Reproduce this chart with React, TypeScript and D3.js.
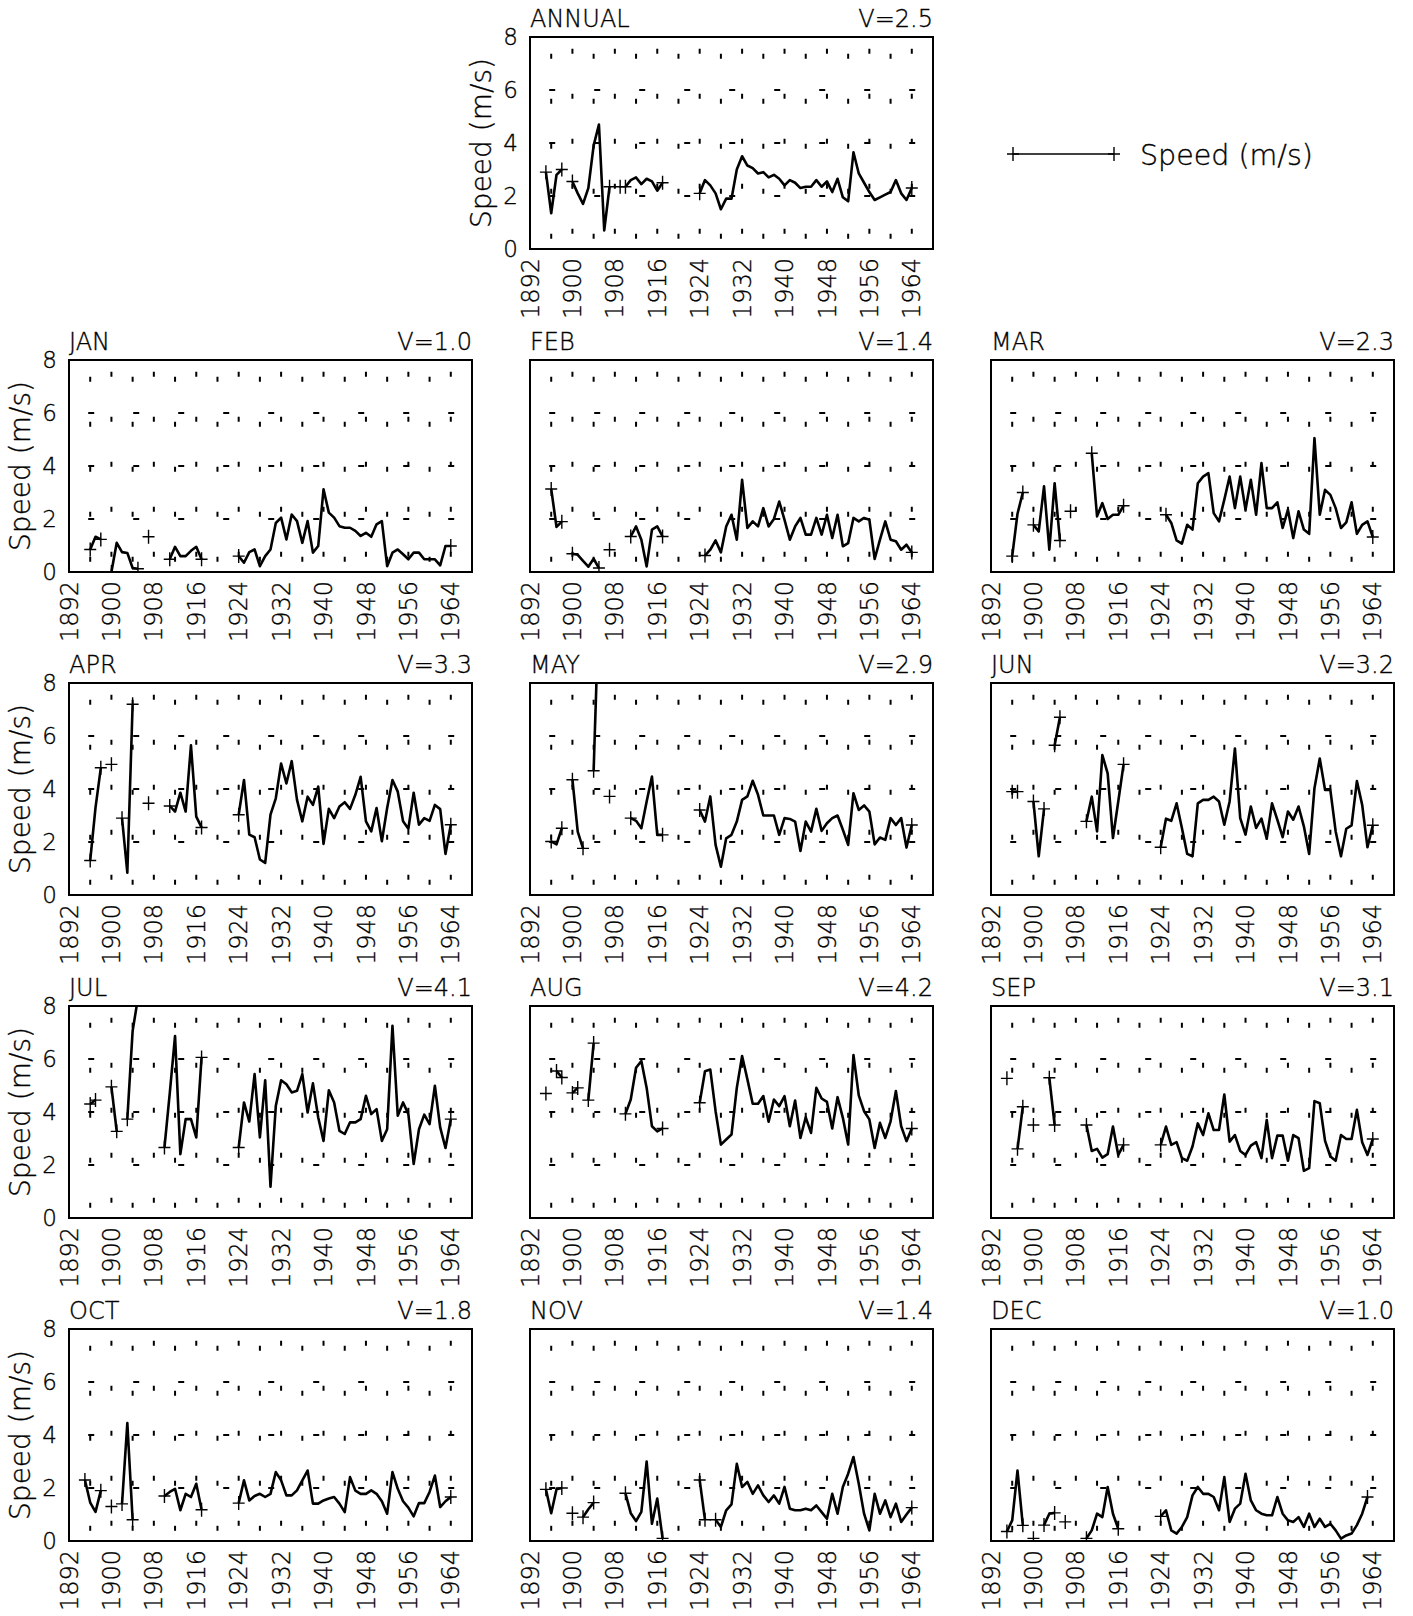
import React from 'react';
import * as d3 from 'd3';

type Seg = { start: number; values: number[] };

const xTickYears = [1892, 1900, 1908, 1916, 1924, 1932, 1940, 1948, 1956, 1964];
const yTickValues = [0, 2, 4, 6, 8];
const gridYears = [1896, 1900, 1904, 1908, 1912, 1916, 1920, 1924, 1928, 1932, 1936, 1940, 1944, 1948, 1952, 1956, 1960, 1964];
const gridLevels = [2, 4, 6];

const annual: Seg[] = [
  { start: 1895, values: [2.9, 1.35, 2.8, 3.0] },
  { start: 1900, values: [2.55, 2.1, 1.7, 2.3, 3.9, 4.7, 0.7, 2.35] },
  { start: 1909, values: [2.35] },
  { start: 1910, values: [2.35, 2.6, 2.7, 2.45, 2.65, 2.55, 2.2, 2.5] },
  { start: 1924, values: [2.1, 2.6, 2.4, 2.1, 1.5, 1.9, 1.9, 3.0, 3.5, 3.15, 3.05, 2.85, 2.9, 2.7, 2.8, 2.65, 2.4, 2.6, 2.5, 2.3, 2.35, 2.35, 2.6, 2.35, 2.55, 2.15, 2.65, 1.95, 1.8, 3.65, 2.85, 2.5, 2.15, 1.85, 1.95, 2.05, 2.15, 2.6, 2.1, 1.85, 2.3] },
];
const jan: Seg[] = [
  { start: 1896, values: [0.85, 1.33, 1.23] },
  { start: 1900, values: [0.0, 1.1, 0.75, 0.72, 0.15, 0.12] },
  { start: 1907, values: [1.33] },
  { start: 1911, values: [0.48, 0.95, 0.6, 0.6, 0.8, 0.95, 0.48] },
  { start: 1924, values: [0.6, 0.35, 0.75, 0.85, 0.22, 0.6, 0.85, 1.85, 2.05, 1.23, 2.17, 1.92, 1.1, 1.92, 0.73, 0.98, 3.12, 2.24, 2.05, 1.73, 1.67, 1.67, 1.55, 1.36, 1.48, 1.33, 1.8, 1.92, 0.22, 0.73, 0.85, 0.67, 0.48, 0.73, 0.73, 0.48, 0.48, 0.48, 0.25, 0.98, 0.98] },
];
const feb: Seg[] = [
  { start: 1896, values: [3.13, 1.7, 1.9] },
  { start: 1900, values: [0.69, 0.65, 0.42, 0.2, 0.5, 0.15] },
  { start: 1907, values: [0.84] },
  { start: 1911, values: [1.34, 1.72, 1.22, 0.21, 1.6, 1.72, 1.34] },
  { start: 1925, values: [0.62, 0.84, 1.19, 0.74, 1.72, 2.16, 1.22, 3.48, 1.66, 1.91, 1.72, 2.41, 1.72, 2.0, 2.66, 1.97, 1.22, 1.72, 2.04, 1.41, 1.41, 2.04, 1.41, 2.16, 1.28, 2.16, 0.97, 1.09, 2.04, 1.91, 2.04, 1.97, 0.49, 1.22, 1.91, 1.22, 1.16, 0.84, 1.03, 0.74] },
];
const mar: Seg[] = [
  { start: 1896, values: [0.6, 2.2, 3.0] },
  { start: 1900, values: [1.78, 1.53, 3.23, 0.84, 3.35, 1.19] },
  { start: 1907, values: [2.29] },
  { start: 1911, values: [4.48, 2.1, 2.6, 2.0, 2.16, 2.16, 2.5] },
  { start: 1925, values: [2.16, 1.85, 1.19, 1.07, 1.78, 1.6, 3.35, 3.6, 3.73, 2.22, 1.91, 2.73, 3.6, 2.41, 3.6, 2.35, 3.48, 2.16, 4.11, 2.41, 2.41, 2.63, 1.66, 2.35, 1.28, 2.29, 1.6, 1.44, 5.05, 2.16, 3.1, 2.91, 2.41, 1.66, 1.87, 2.63, 1.44, 1.78, 1.91, 1.32] },
];
const apr: Seg[] = [
  { start: 1896, values: [1.3, 3.3, 4.8] },
  { start: 1900, values: [4.93] },
  { start: 1902, values: [2.9, 0.84, 7.2] },
  { start: 1907, values: [3.46] },
  { start: 1911, values: [3.36, 3.15, 3.86, 3.15, 5.65, 2.96, 2.55] },
  { start: 1924, values: [3.03, 4.34, 2.28, 2.18, 1.34, 1.21, 3.03, 3.65, 4.96, 4.21, 5.05, 3.59, 2.78, 3.71, 3.4, 4.09, 1.93, 3.25, 2.9, 3.34, 3.5, 3.25, 3.78, 4.46, 2.78, 2.4, 3.28, 2.03, 3.28, 4.34, 3.9, 2.78, 2.5, 3.86, 2.65, 2.9, 2.8, 3.4, 3.24, 1.55, 2.65] },
];
const may: Seg[] = [
  { start: 1896, values: [2.02, 1.91, 2.52] },
  { start: 1900, values: [4.35, 2.39, 1.76] },
  { start: 1904, values: [4.69, 11] },
  { start: 1907, values: [3.72] },
  { start: 1911, values: [2.9, 2.8, 2.52, 3.53, 4.47, 2.27, 2.27] },
  { start: 1924, values: [3.21, 2.77, 3.72, 1.89, 1.07, 2.14, 2.27, 2.77, 3.59, 3.72, 4.31, 3.78, 3.0, 3.0, 3.0, 2.27, 2.9, 2.87, 2.77, 1.66, 2.77, 2.39, 3.25, 2.42, 2.71, 2.9, 3.0, 2.46, 1.89, 3.84, 3.21, 3.38, 3.15, 1.91, 2.17, 2.08, 2.9, 2.64, 2.9, 1.79, 2.64] },
];
const jun: Seg[] = [
  { start: 1896, values: [3.9, 3.9] },
  { start: 1900, values: [3.53, 1.46, 3.25] },
  { start: 1904, values: [5.65, 6.71] },
  { start: 1910, values: [2.78, 3.71, 2.4, 5.28, 4.59, 2.15, 3.53, 4.93] },
  { start: 1924, values: [1.8, 2.88, 2.8, 3.46, 2.53, 1.55, 1.46, 3.46, 3.59, 3.59, 3.71, 3.53, 2.65, 3.53, 5.53, 2.9, 2.28, 3.34, 2.53, 2.88, 2.13, 3.46, 2.84, 2.18, 3.15, 2.84, 3.34, 2.59, 1.55, 4.03, 5.15, 3.96, 3.96, 2.4, 1.46, 2.5, 2.63, 4.3, 3.4, 1.8, 2.63] },
];
const jul: Seg[] = [
  { start: 1896, values: [4.3, 4.45] },
  { start: 1900, values: [4.95, 3.27] },
  { start: 1903, values: [3.73, 7.06, 8.3] },
  { start: 1910, values: [2.66, 4.7, 6.87, 2.41, 3.73, 3.73, 3.04, 6.06] },
  { start: 1924, values: [2.66, 4.36, 3.64, 5.43, 3.04, 5.2, 1.18, 4.23, 5.2, 5.05, 4.74, 4.8, 5.43, 3.98, 5.08, 3.79, 2.91, 4.82, 4.36, 3.29, 3.17, 3.61, 3.61, 3.73, 4.61, 3.92, 4.11, 2.91, 3.35, 7.25, 3.86, 4.36, 3.92, 2.04, 3.35, 3.9, 3.54, 4.99, 3.42, 2.64, 3.73] },
];
const aug: Seg[] = [
  { start: 1895, values: [4.7] },
  { start: 1897, values: [5.55, 5.3] },
  { start: 1900, values: [4.72, 4.91] },
  { start: 1903, values: [4.45, 6.6] },
  { start: 1910, values: [3.93, 4.47, 5.67, 5.92, 4.91, 3.46, 3.27, 3.38] },
  { start: 1924, values: [4.35, 5.54, 5.6, 4.03, 2.77, 2.96, 3.15, 4.91, 6.11, 5.23, 4.31, 4.31, 4.6, 3.63, 4.47, 4.22, 4.6, 3.46, 4.43, 3.02, 3.8, 3.21, 4.91, 4.51, 4.38, 3.38, 4.56, 3.78, 2.77, 6.15, 4.63, 4.03, 3.72, 2.64, 3.59, 3.02, 3.65, 4.79, 3.46, 2.9, 3.38] },
];
const sep: Seg[] = [
  { start: 1895, values: [5.27] },
  { start: 1897, values: [2.61, 4.2] },
  { start: 1900, values: [3.51] },
  { start: 1903, values: [5.29, 3.51] },
  { start: 1910, values: [3.51, 2.53, 2.61, 2.28, 2.41, 3.45, 2.38, 2.76] },
  { start: 1924, values: [2.76, 3.45, 2.76, 2.86, 2.26, 2.16, 2.7, 3.57, 3.13, 3.95, 3.32, 3.32, 4.66, 2.88, 3.13, 2.53, 2.38, 2.73, 2.86, 2.26, 3.7, 2.26, 3.11, 3.11, 2.16, 3.13, 3.01, 1.78, 1.88, 4.41, 4.33, 2.91, 2.32, 2.16, 3.13, 2.98, 2.98, 4.08, 2.86, 2.38, 2.98] },
];
const oct: Seg[] = [
  { start: 1895, values: [2.3, 1.45, 1.1, 1.9] },
  { start: 1900, values: [1.3] },
  { start: 1902, values: [1.4, 4.45, 0.8] },
  { start: 1910, values: [1.7, 1.85, 1.97, 1.16, 1.78, 1.66, 2.16, 1.18] },
  { start: 1924, values: [1.43, 2.29, 1.53, 1.7, 1.78, 1.66, 1.78, 2.6, 2.29, 1.72, 1.72, 1.91, 2.29, 2.66, 1.41, 1.41, 1.53, 1.6, 1.66, 1.41, 1.09, 2.41, 1.9, 1.78, 1.78, 1.91, 1.78, 1.5, 1.03, 2.6, 1.97, 1.5, 1.26, 0.93, 1.43, 1.43, 1.85, 2.47, 1.28, 1.5, 1.66] },
];
const nov: Seg[] = [
  { start: 1895, values: [1.95, 1.05, 1.95, 2.0] },
  { start: 1900, values: [1.05] },
  { start: 1902, values: [0.9, 1.2, 1.45] },
  { start: 1910, values: [1.8, 1.05, 0.75, 1.1, 3.0, 0.65, 1.6, 0.1] },
  { start: 1924, values: [2.3, 0.8] },
  { start: 1927, values: [0.8, 0.53, 1.16, 1.38, 2.91, 2.04, 2.23, 1.78, 2.1, 1.72, 1.47, 1.72, 1.41, 2.04, 1.22, 1.16, 1.16, 1.22, 1.16, 1.34, 1.09, 0.84, 1.78, 1.03, 2.04, 2.54, 3.17, 2.16, 1.03, 0.4, 1.78, 1.03, 1.53, 0.9, 1.41, 0.72, 1.0, 1.26] },
];
const dec: Seg[] = [
  { start: 1895, values: [0.36, 0.78, 2.66, 0.59] },
  { start: 1900, values: [0.1] },
  { start: 1902, values: [0.6, 1.03, 1.06] },
  { start: 1906, values: [0.72] },
  { start: 1910, values: [0.1, 0.4, 1.03, 0.9, 2.04, 1.03, 0.46] },
  { start: 1924, values: [0.93, 1.16, 0.4, 0.28, 0.53, 0.9, 1.72, 2.04, 1.78, 1.78, 1.66, 1.16, 2.41, 0.72, 1.22, 1.41, 2.54, 1.53, 1.16, 1.03, 0.97, 0.97, 1.66, 1.03, 0.78, 0.72, 0.9, 0.53, 1.03, 0.53, 0.84, 0.53, 0.65, 0.4, 0.09, 0.21, 0.28, 0.6, 1.03, 1.66] },
];

const PW = 403;
const PH = 212;
const FONT = "'DejaVu Sans', 'Liberation Sans', sans-serif";
const TXT = { fontFamily: FONT, fontWeight: 200, fill: '#000', stroke: '#000', strokeWidth: 0.35 } as const;

type PanelDef = { name: string; v: string; segs: Seg[]; left: number; top: number; yAxis: boolean };

const colLefts = [69, 530, 991];
const rowTops = [360, 683, 1006, 1329];

const monthPanels: [string, string, Seg[]][] = [
  ['JAN', 'V=1.0', jan], ['FEB', 'V=1.4', feb], ['MAR', 'V=2.3', mar],
  ['APR', 'V=3.3', apr], ['MAY', 'V=2.9', may], ['JUN', 'V=3.2', jun],
  ['JUL', 'V=4.1', jul], ['AUG', 'V=4.2', aug], ['SEP', 'V=3.1', sep],
  ['OCT', 'V=1.8', oct], ['NOV', 'V=1.4', nov], ['DEC', 'V=1.0', dec],
];

const panels: PanelDef[] = [
  { name: 'ANNUAL', v: 'V=2.5', segs: annual, left: 530, top: 37, yAxis: true },
  ...monthPanels.map(([name, v, segs], i) => ({
    name, v, segs, left: colLefts[i % 3], top: rowTops[Math.floor(i / 3)], yAxis: i % 3 === 0,
  })),
];

function plus(cx: number, cy: number, hw = 6, hh = 7) {
  return `M${cx - hw},${cy}h${hw * 2}M${cx},${cy - hh}v${hh * 2}`;
}

function Panel({ p, idx }: { p: PanelDef; idx: number }) {
  const x = d3.scaleLinear().domain([1892, 1968]).range([0, PW]);
  const y = d3.scaleLinear().domain([0, 8]).range([PH, 0]);
  const line = d3.line<[number, number]>().x((d) => x(d[0])).y((d) => y(d[1]));
  const clipId = `clip-${idx}`;
  const x1896 = x(1896);
  return (
    <g transform={`translate(${p.left},${p.top})`}>
      <defs>
        <clipPath id={clipId}>
          <rect x={0} y={0} width={PW} height={PH} />
        </clipPath>
      </defs>
      <g stroke="#000" strokeWidth={2} fill="none">
        {gridYears.map((yr, i) => (
          <line key={`v${yr}`} x1={x(yr)} x2={x(yr)} y1={PH} y2={0}
            strokeDasharray="5 40" strokeDashoffset={i % 2 === 0 ? 34.8 : 29.8} />
        ))}
        {gridLevels.map((lv) => (
          <line key={`h${lv}`} x1={x1896 - 2} x2={PW} y1={y(lv)} y2={y(lv)}
            strokeDasharray="6 39" />
        ))}
      </g>
      <g clipPath={`url(#${clipId})`}>
        {p.segs.map((s, si) => {
          const pts: [number, number][] = s.values.map((v, k) => [s.start + k, v]);
          const first = pts[0];
          const last = pts[pts.length - 1];
          return (
            <g key={si}>
              {pts.length > 1 && (
                <path d={line(pts) || ''} fill="none" stroke="#000" strokeWidth={2.6} strokeLinejoin="round" />
              )}
              <path d={plus(x(first[0]), y(first[1])) + (pts.length > 1 ? plus(x(last[0]), y(last[1])) : '')}
                stroke="#000" strokeWidth={1.4} fill="none" />
            </g>
          );
        })}
      </g>
      <rect x={0} y={0} width={PW} height={PH} fill="none" stroke="#000" strokeWidth={2} />
      <text x={0} y={-10} fontSize={24} {...TXT}>{p.name}</text>
      <text x={PW} y={-10} fontSize={24} textAnchor="end" {...TXT}>{p.v}</text>
      {p.yAxis && yTickValues.map((t) => (
        <text key={`yt${t}`} x={-12} y={y(t)} dy="0.36em" textAnchor="end" fontSize={23} {...TXT}>{t}</text>
      ))}
      {xTickYears.map((yr) => (
        <text key={`xt${yr}`} transform={`translate(${x(yr)},${PH + 9}) rotate(-90)`} dy="0.36em" textAnchor="end"
          fontSize={24} {...TXT}>{yr}</text>
      ))}
      {p.yAxis && (
        <text transform={`translate(-39,${PH / 2}) rotate(-90)`} textAnchor="middle" fontSize={28} {...TXT}>Speed (m/s)</text>
      )}
    </g>
  );
}

export default function App() {
  return (
    <svg width={1413} height={1616} viewBox="0 0 1413 1616" style={{ position: 'absolute', left: 0, top: 0, background: '#fff' }}>
      <rect x={0} y={0} width={1413} height={1616} fill="#fff" />
      {panels.map((p, i) => (
        <Panel key={p.name} p={p} idx={i} />
      ))}
      <g>
        <line x1={1013} x2={1114} y1={154} y2={154} stroke="#000" strokeWidth={1.4} />
        <path d={plus(1013, 154) + plus(1114, 154)} stroke="#000" strokeWidth={1.4} fill="none" />
        <text x={1140} y={165} fontSize={28.5} {...TXT}>Speed (m/s)</text>
      </g>
    </svg>
  );
}
